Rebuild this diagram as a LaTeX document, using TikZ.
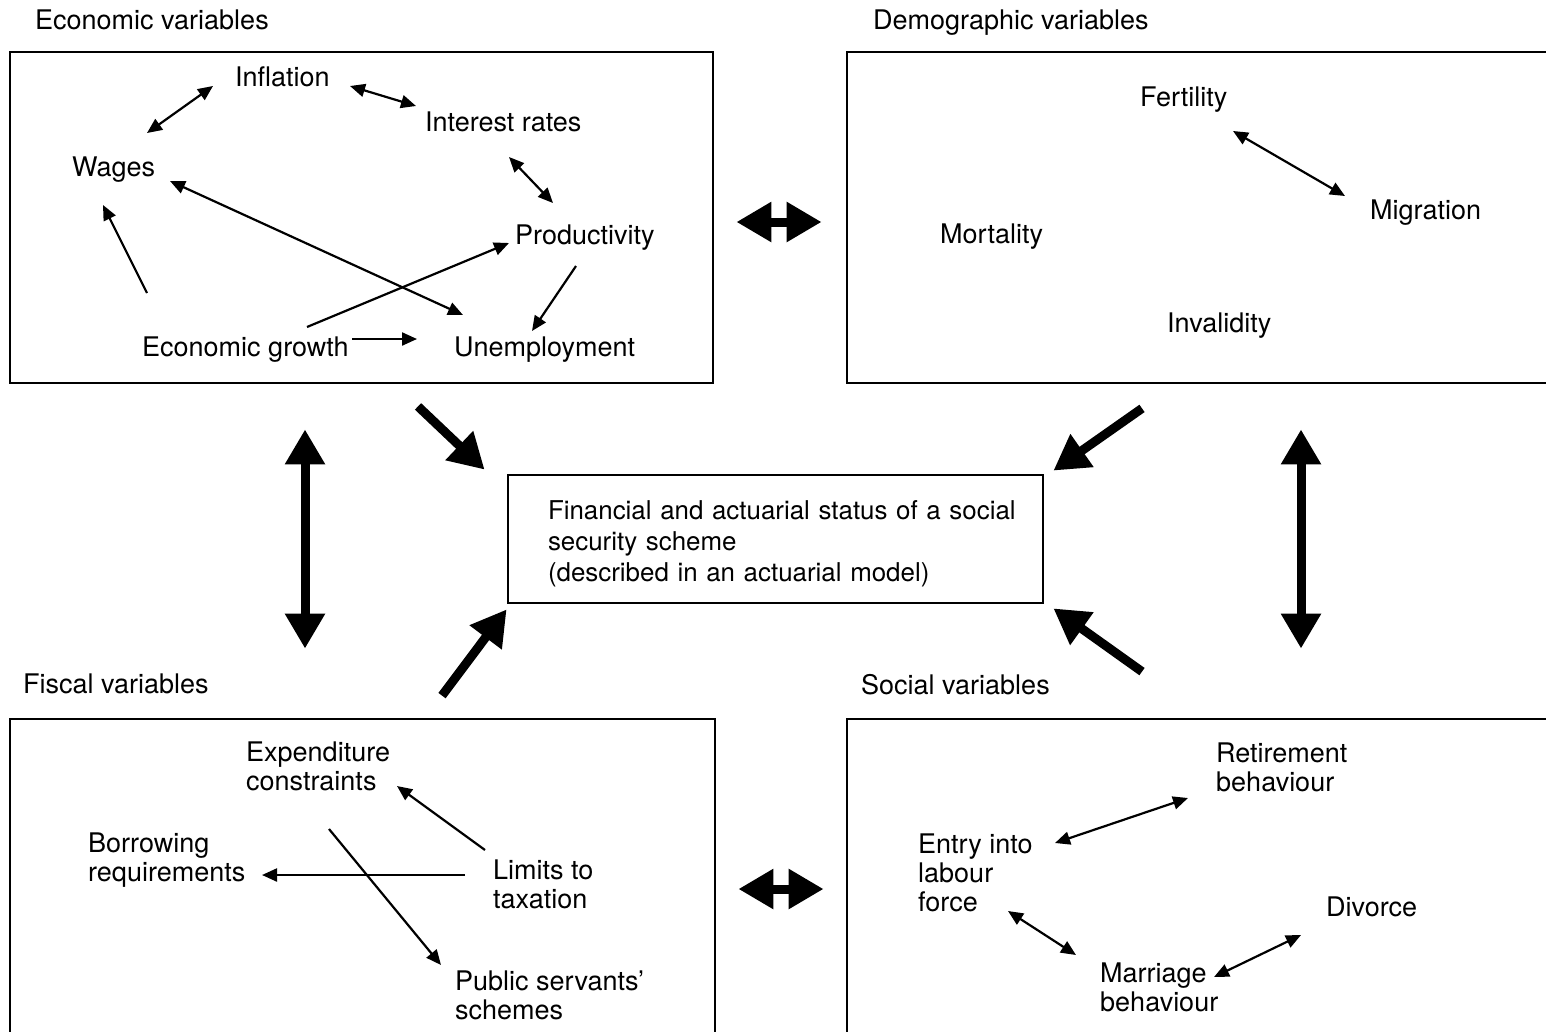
\documentclass[tikz,border=0pt]{standalone}
\usepackage{fontspec}
\setmainfont{TeX Gyre Heros}
\usetikzlibrary{arrows.meta}
\begin{document}
\begin{tikzpicture}[x=1pt,y=-1pt,
  every node/.style={inner sep=0pt, font=\fontsize{27}{29}\selectfont},
  lbl/.style={anchor=north west, align=left},
  frame/.style={draw, line width=2.8pt},
  lnk/.style={line width=2.2pt, -{Triangle[length=15pt,width=13pt]}},
  dlnk/.style={line width=2.2pt, {Triangle[length=15pt,width=13pt]}-{Triangle[length=15pt,width=13pt]}},
  big/.style={line width=9pt, -{Triangle[length=35pt,width=38pt]}},
  dbig/.style={line width=9pt, {Triangle[length=35pt,width=38pt]}-{Triangle[length=35pt,width=38pt]}},
  rel/.style={shift={#1}}
]
\clip (0,0) rectangle (1546,1031);
\fill[white] (0,0) rectangle (1546,1031);

% frames
\node[frame, minimum width=703pt, minimum height=331pt] (econbox) at (361.5,217.5) {};
\node[frame, minimum width=753pt, minimum height=331pt] (demobox) at (1223.5,217.5) {};
\node[frame, minimum width=705pt, minimum height=361pt] (fiscbox) at (362.5,899.5) {};
\node[frame, minimum width=753pt, minimum height=361pt] (socbox) at (1223.5,899.5) {};
\node[frame, minimum width=535pt, minimum height=128pt, align=left, text width=455pt,
      font=\fontsize{25.9}{31}\selectfont] (centre) at (775.5,539)
  {\mbox{\rule{0pt}{27.5pt}Financial and actuarial status of a social}\\\mbox{security scheme}\\\mbox{(described in an actuarial model)}};

% titles
\node[lbl] (t1) at (35,10) {Economic variables};
\node[lbl] (t2) at (873,10) {Demographic variables};
\node[lbl] (t3) at (23,674) {Fiscal variables};
\node[lbl] (t4) at (861,674) {Social variables};

% economic
\node[lbl] (infl) at (235,67) {Inflation};
\node[lbl] (intr) at (425,112) {Interest rates};
\node[lbl] (wage) at (72,157) {Wages};
\node[lbl] (prod) at (515,225) {Productivity};
\node[lbl] (egro) at (142,337) {Economic growth};
\node[lbl] (unem) at (454,337) {Unemployment};

\draw[dlnk] ([rel={(75,-24)}]wage.north west) -- ([rel={(-22,19)}]infl.north west);
\draw[dlnk] ([rel={(115,19)}]infl.north west) -- ([rel={(-9,-6)}]intr.north west);
\draw[dlnk] ([rel={(84,45)}]intr.north west) -- ([rel={(38,-22)}]prod.north west);
\draw[dlnk] ([rel={(9,-22)}]unem.north west) -- ([rel={(98,24)}]wage.north west);
\draw[lnk] ([rel={(165,-10)}]egro.north west) -- ([rel={(-6,18)}]prod.north west);
\draw[lnk] ([rel={(5,-44)}]egro.north west) -- ([rel={(31,48)}]wage.north west);
\draw[lnk] ([rel={(61,41)}]prod.north west) -- ([rel={(78,-6)}]unem.north west);
\draw[lnk] ([rel={(210,2)}]egro.north west) -- ([rel={(-37,2)}]unem.north west);

% demographic
\node[lbl] (fert) at (1140,87) {Fertility};
\node[lbl] (migr) at (1370,200) {Migration};
\node[lbl] (mort) at (940,224) {Mortality};
\node[lbl] (inva) at (1167,313) {Invalidity};
\draw[dlnk] ([rel={(93,44)}]fert.north west) -- ([rel={(-25,-4)}]migr.north west);

% fiscal
\node[lbl] (expe) at (246,742) {Expenditure\\constraints};
\node[lbl] (borr) at (88,833) {Borrowing\\requirements};
\node[lbl] (limi) at (493,860) {Limits to\\taxation};
\node[lbl] (publ) at (455,971) {Public servants'\\schemes};
\draw[lnk] ([rel={(-8,-10)}]limi.north west) -- ([rel={(151,44)}]expe.north west);
\draw[lnk] ([rel={(-28,15)}]limi.north west) -- ([rel={(174,42)}]borr.north west);
\draw[lnk] ([rel={(83,87)}]expe.north west) -- ([rel={(-14,-6)}]publ.north west);

% social
\node[lbl] (reti) at (1216,743) {Retirement\\behaviour};
\node[lbl] (entr) at (918,834) {Entry into\\labour\\force};
\node[lbl] (divo) at (1326,897) {Divorce};
\node[lbl] (marr) at (1100,963) {Marriage\\behaviour};
\draw[dlnk] ([rel={(137,9)}]entr.north west) -- ([rel={(-28,55)}]reti.north west);
\draw[dlnk] ([rel={(90,77)}]entr.north west) -- ([rel={(-24,-8)}]marr.north west);
\draw[dlnk] ([rel={(114,14)}]marr.north west) -- ([rel={(-25,38)}]divo.north west);

% big arrows
\draw[dbig] ([rel={(22,4.5)}]econbox.east) -- ([rel={(-24,4.5)}]demobox.west);
\draw[dbig] ([rel={(22,-10.5)}]fiscbox.east) -- ([rel={(-22,-10.5)}]socbox.west);
\draw[dbig] ([rel={(-56.5,45)}]econbox.south) -- ([rel={(-57.5,-69)}]fiscbox.north);
\draw[dbig] ([rel={(77.5,45)}]demobox.south) -- ([rel={(77.5,-69)}]socbox.north);
\draw[big] ([rel={(56.5,22)}]econbox.south) -- ([rel={(-22,-4)}]centre.north west);
\draw[big] ([rel={(-81.5,24)}]demobox.south) -- ([rel={(9,-3)}]centre.north east);
\draw[big] ([rel={(79.5,-22)}]fiscbox.north) -- ([rel={(0,5)}]centre.south west);
\draw[big] ([rel={(-81.5,-46)}]socbox.north) -- ([rel={(9,4)}]centre.south east);
\end{tikzpicture}
\end{document}
